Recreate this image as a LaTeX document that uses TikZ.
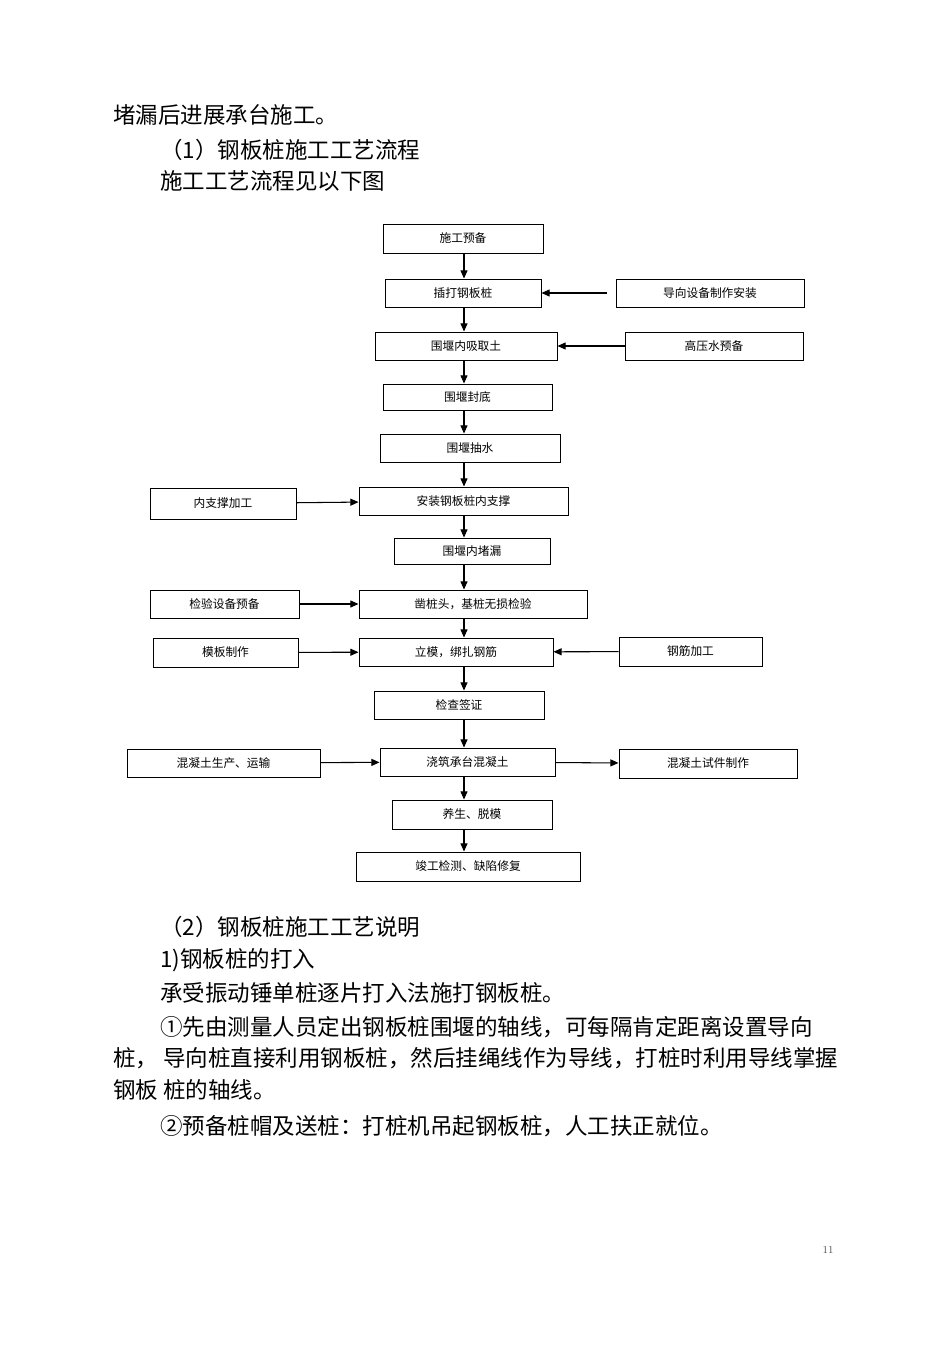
\documentclass[tikz,border=0pt]{standalone}
\usepackage{fontspec}
\newfontfamily\cjk{Noto Sans CJK SC}
\usetikzlibrary{arrows.meta}

\begin{document}
\begin{tikzpicture}[x=0.03cm, y=-0.03cm,
    box/.style 2 args={draw, line width=0.8pt, minimum width=#1*0.03cm, minimum height=#2*0.03cm, inner sep=0pt, font=\cjk\fontsize{10}{12}\selectfont},
    arr/.style={line width=0.9pt, -{Triangle[length=7pt,width=6pt]}},
    para/.style={anchor=west, inner sep=0pt, font=\cjk\fontsize{19.2}{22}\selectfont}]
  \fill[white] (0,0) rectangle (950,1345);
  \useasboundingbox (0,0) rectangle (950,1345);

  % text above the chart
  \node[para] (p1) at (113,115) {堵漏后进展承台施工。};
  \node[para] (p2) at (160,150) {（1）钢板桩施工工艺流程};
  \node[para] (p3) at (160,181) {施工工艺流程见以下图};

  % main column
  \node[box={160}{29}] (prep)    at (463,238.5) {施工预备};
  \node[box={156}{28}] (insert)  at (463,293)   {插打钢板桩};
  \node[box={182}{28}] (suck)    at (466,346)   {围堰内吸取土};
  \node[box={169}{26}] (seal)    at (467.5,397) {围堰封底};
  \node[box={180}{28}] (pump)    at (470,448)   {围堰抽水};
  \node[box={209}{28}] (install) at (463.5,501) {安装钢板桩内支撑};
  \node[box={156}{26}] (plug)    at (472,551)   {围堰内堵漏};
  \node[box={228}{28}] (chisel)  at (473,604)   {凿桩头，基桩无损检验};
  \node[box={194}{28}] (formset) at (456,652)   {立模，绑扎钢筋};
  \node[box={170}{28}] (check)   at (459,705)   {检查签证};
  \node[box={175}{28}] (pour)    at (467.5,762) {浇筑承台混凝土};
  \node[box={160}{29}] (cure)    at (472,814.5) {养生、脱模};
  \node[box={224}{29}] (final)   at (468,866.5) {竣工检测、缺陷修复};

  % side boxes
  \node[box={188}{28}] (guide)    at (710,293)   {导向设备制作安装};
  \node[box={178}{28}] (water)    at (714,346)   {高压水预备};
  \node[box={146}{31}] (brace)    at (223,503.5) {内支撑加工};
  \node[box={149}{28}] (equip)    at (224.5,604) {检验设备预备};
  \node[box={145}{29}] (formwork) at (225.5,652.5) {模板制作};
  \node[box={143}{29}] (rebar)    at (690.5,651.5) {钢筋加工};
  \node[box={193}{28}] (concprod) at (223.5,763) {混凝土生产、运输};
  \node[box={178}{29}] (specimen) at (708,763.5) {混凝土试件制作};

  \coordinate (spine) at (464,0);
  \foreach \a/\b in {prep/insert, insert/suck, suck/seal, seal/pump, pump/install,
                     install/plug, plug/chisel, chisel/formset, formset/check,
                     check/pour, pour/cure, cure/final}
    \draw[arr] (\a.south -| spine) -- (\b.north -| spine);

  \draw[arr, shorten <=0.27cm] (guide) -- (insert);
  \foreach \a/\b in {water/suck, brace/install, equip/chisel, formwork/formset,
                     rebar/formset, concprod/pour, pour/specimen}
    \draw[arr] (\a) -- (\b);

  % text below the chart
  \node[para] (q1) at (160,927)  {（2）钢板桩施工工艺说明};
  \node[para] (q2) at (160,960)  {1)钢板桩的打入};
  \node[para] (q3) at (160,993)  {承受振动锤单桩逐片打入法施打钢板桩。};
  \node[para] (q4) at (160,1027) {①先由测量人员定出钢板桩围堰的轴线，可每隔肯定距离设置导向};
  \node[para] (q5) at (113,1058) {桩， 导向桩直接利用钢板桩，然后挂绳线作为导线，打桩时利用导线掌握};
  \node[para] (q6) at (113,1090) {钢板 桩的轴线。};
  \node[para] (q7) at (160,1126) {②预备桩帽及送桩：打桩机吊起钢板桩，人工扶正就位。};

  \node[font=\fontsize{9}{10}\selectfont, text=black!70] (pagenum) at (828,1250) {11};
\end{tikzpicture}
\end{document}
